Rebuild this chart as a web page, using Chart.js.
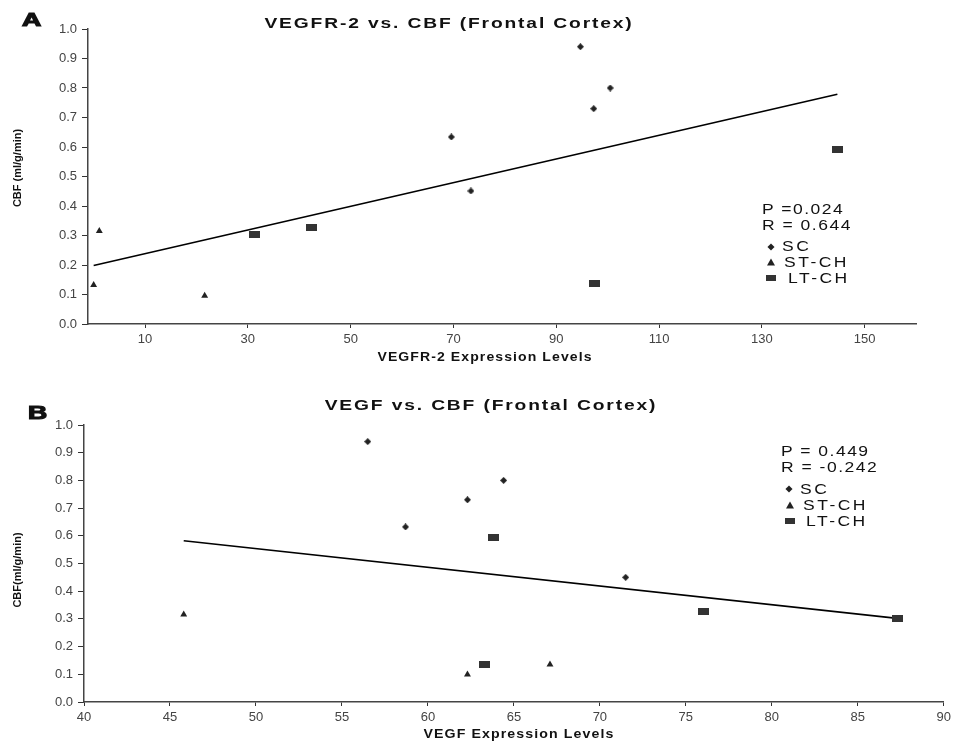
<!DOCTYPE html>
<html>
<head>
<meta charset="utf-8">
<script src="https://cdn.jsdelivr.net/npm/chart.js@4.4.1/dist/chart.umd.min.js"></script>
<style>
  body { margin: 0; background: #fff; font-family: Arial, "Liberation Sans", sans-serif; }
  #wrap { position: relative; width: 955px; height: 745px; overflow: hidden; background: #fff; }
  .box { position: absolute; left: 0; width: 955px; }
  .txt { position: absolute; white-space: nowrap; line-height: 1; color: #111; }
  .mk { position: absolute; background: #222; }
</style>
</head>
<body>
<div id="wrap">
  <div class="box" style="top:0;height:365px"><canvas id="chartA"></canvas></div>
  <div class="box" style="top:365px;height:380px"><canvas id="chartB"></canvas></div>
</div>
<script>
// Panel A: VEGFR-2 vs CBF
const aScX = [94.7, 100.5, 97.3, 69.6, 73.4];
const aScY = [0.94, 0.80, 0.73, 0.634, 0.451];
const aStX = [1.1, 0, 21.6];
const aStY = [0.315, 0.132, 0.096];
const aLtX = [31.2, 42.3, 97.5, 144.8];
const aLtY = [0.303, 0.326, 0.136, 0.593];
const aFitX = [0, 144.7];
const aFitY = [0.198, 0.779];
const aXTicks = [10, 30, 50, 70, 90, 110, 130, 150];

// Panel B: VEGF vs CBF
const bScX = [56.5, 64.4, 62.3, 58.7, 71.5];
const bScY = [0.94, 0.80, 0.73, 0.632, 0.45];
const bStX = [45.8, 62.3, 67.1];
const bStY = [0.316, 0.099, 0.135];
const bLtX = [63.8, 63.3, 76.0, 87.3];
const bLtY = [0.594, 0.135, 0.328, 0.302];
const bFitX = [45.8, 87.3];
const bFitY = [0.582, 0.302];
const bXTicks = [40, 45, 50, 55, 60, 65, 70, 75, 80, 85, 90];

const yTicks = [0, 0.1, 0.2, 0.3, 0.4, 0.5, 0.6, 0.7, 0.8, 0.9, 1.0];

const pts = (xs, ys) => xs.map((x, i) => ({ x: x, y: ys[i] }));

// little canvases for the marker shapes
function diamond() {
  const c = document.createElement("canvas");
  c.width = 7; c.height = 7;
  const g = c.getContext("2d");
  g.fillStyle = "#222";
  g.beginPath(); g.moveTo(3.5, 0); g.lineTo(7, 3.5); g.lineTo(3.5, 7); g.lineTo(0, 3.5); g.closePath(); g.fill();
  return c;
}
function block() {
  const c = document.createElement("canvas");
  c.width = 11; c.height = 7;
  const g = c.getContext("2d");
  g.fillStyle = "#333";
  g.fillRect(0, 0, 11, 7);
  return c;
}

function makeChart(id, cfg) {
  const datasets = [
    { label: "SC", data: pts(cfg.sc[0], cfg.sc[1]), pointStyle: diamond(), pointRadius: 4 },
    { label: "ST-CH", data: pts(cfg.st[0], cfg.st[1]), pointStyle: "triangle", pointRadius: 4,
      backgroundColor: "#222", borderColor: "#222", borderWidth: 0 },
    { label: "LT-CH", data: pts(cfg.lt[0], cfg.lt[1]), pointStyle: block(), pointRadius: 6 },
    { label: "fit", type: "line", data: pts(cfg.fit[0], cfg.fit[1]), showLine: true,
      borderColor: "#000", borderWidth: 1.6, pointRadius: 0, fill: false }
  ];
  return new Chart(document.getElementById(id), {
    type: "scatter",
    data: { datasets },
    options: {
      responsive: true,
      maintainAspectRatio: false,
      animation: false,
      layout: { padding: cfg.pad },
      plugins: { legend: { display: false }, tooltip: { enabled: false } },
      scales: {
        x: {
          type: "linear", min: cfg.xMin, max: cfg.xMax,
          afterBuildTicks: s => { s.ticks = cfg.xTicks.map(v => ({ value: v })); },
          afterFit: s => { s.height = cfg.xH; },
          grid: { drawOnChartArea: false, color: "#333", tickLength: 4 },
          border: { color: "#444", width: 1.5 },
          ticks: { color: "#444", font: { size: 13, family: "Arial" }, padding: 4, maxRotation: 0,
            callback: v => String(v) }
        },
        y: {
          type: "linear", min: 0, max: 1,
          afterBuildTicks: s => { s.ticks = yTicks.map(v => ({ value: v })); },
          afterFit: s => { s.width = cfg.yW; },
          grid: { drawOnChartArea: false, color: "#333", tickLength: 6 },
          border: { color: "#444", width: 1.5 },
          ticks: { color: "#444", font: { size: 13, family: "Arial" }, padding: 5,
            callback: v => v.toFixed(1) }
        }
      }
    }
  });
}

makeChart("chartA", {
  sc: [aScX, aScY], st: [aStX, aStY], lt: [aLtX, aLtY], fit: [aFitX, aFitY],
  xMin: -1.1, xMax: 160, xTicks: aXTicks, xH: 41, yW: 88,
  pad: { top: 29, right: 39, left: 0, bottom: 0 }
});
makeChart("chartB", {
  sc: [bScX, bScY], st: [bStX, bStY], lt: [bLtX, bLtY], fit: [bFitX, bFitY],
  xMin: 40, xMax: 90, xTicks: bXTicks, xH: 43, yW: 84,
  pad: { top: 60, right: 11, left: 0, bottom: 0 }
});

// text and legend overlays
const wrap = document.getElementById("wrap");
function txt(s, x, y, css, anchor, extra) {
  const d = document.createElement("div");
  d.className = "txt";
  d.textContent = s;
  d.style.cssText += css;
  d.style.left = x + "px";
  d.style.top = y + "px";
  d.style.transformOrigin = anchor === "c" ? "center center" : "left center";
  d.style.transform = (anchor === "c" ? "translate(-50%,-50%)" : "translate(0,-50%)") + (extra || "");
  wrap.appendChild(d);
  return d;
}
function mark(kind, x, y) {
  const d = document.createElement("div");
  d.className = "mk";
  if (kind === "d") {
    d.style.cssText += "width:5px;height:5px;transform:translate(-50%,-50%) rotate(45deg);";
  } else if (kind === "t") {
    d.style.cssText += "width:0;height:0;background:none;border-left:4px solid transparent;border-right:4px solid transparent;border-bottom:7px solid #222;transform:translate(-50%,-50%);";
  } else {
    d.style.cssText += "width:10px;height:6px;transform:translate(-50%,-50%);background:#333;";
  }
  d.style.left = x + "px";
  d.style.top = y + "px";
  wrap.appendChild(d);
}

const big = "font-weight:bold;font-size:19px;-webkit-text-stroke:1.2px #111;";
const ttl = "font-weight:bold;font-size:15.5px;letter-spacing:1.5px;";
const axl = "font-weight:bold;font-size:13px;letter-spacing:1px;";
const stat = "font-size:14px;letter-spacing:1.2px;color:#111;";
const leg = "font-size:14px;letter-spacing:2px;color:#111;";
const ylab = "font-weight:bold;font-size:11px;";
const wide = " scaleX(1.25)";

// panel A
txt("A", 22, 19, big, "l", " scaleX(1.4)");
txt("VEGFR-2 vs. CBF (Frontal Cortex)", 449, 23, ttl, "c", " scaleX(1.24)");
txt("CBF (ml/g/min)", 17, 168, ylab, "c", " rotate(-90deg)");
txt("VEGFR-2 Expression Levels", 485, 356, axl, "c", " scaleX(1.08)");
txt("P =0.024", 762, 209, stat, "l", wide);
txt("R = 0.644", 762, 225, stat, "l", wide);
mark("d", 771, 247); txt("SC", 782, 246, leg, "l", wide);
mark("t", 771, 262); txt("ST-CH", 784, 262, leg, "l", wide);
mark("r", 771, 278); txt("LT-CH", 788, 278, leg, "l", wide);

// panel B
txt("B", 28, 412, big, "l", " scaleX(1.4)");
txt("VEGF vs. CBF (Frontal Cortex)", 491, 405, ttl, "c", " scaleX(1.24)");
txt("CBF(ml/g/min)", 17, 570, ylab, "c", " rotate(-90deg)");
txt("VEGF Expression Levels", 519, 733, axl, "c", " scaleX(1.09)");
txt("P = 0.449", 781, 451, stat, "l", wide);
txt("R = -0.242", 781, 467, stat, "l", wide);
mark("d", 789, 489); txt("SC", 800, 489, leg, "l", wide);
mark("t", 790, 505); txt("ST-CH", 803, 505, leg, "l", wide);
mark("r", 790, 521); txt("LT-CH", 806, 521, leg, "l", wide);
</script>
</body>
</html>
